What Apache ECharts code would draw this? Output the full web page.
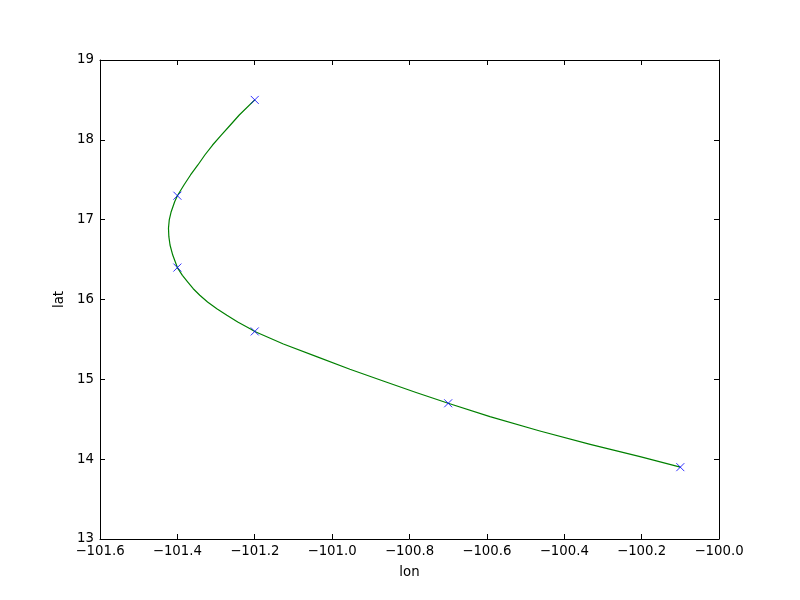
<!DOCTYPE html>
<html>
<head>
<meta charset="utf-8">
<script src="https://cdn.jsdelivr.net/npm/echarts@6/dist/echarts.min.js"></script>
<style>html,body{margin:0;padding:0;background:#fff}#c{width:800px;height:600px}</style>
</head>
<body>
<div id="c"></div>
<script>
// observed track points (markers)
var lon = [-101.2, -101.4, -101.4, -101.2, -100.7, -100.1];
var lat = [18.5, 17.3, 16.4, 15.6, 14.7, 13.9];
// fitted curve, values
var curveLon = [-101.2, -101.240, -101.263, -101.286, -101.309, -101.329, -101.347, -101.366, -101.383, -101.4, -101.407, -101.416, -101.421, -101.423, -101.422, -101.419, -101.412, -101.4, -101.387, -101.373, -101.359, -101.342, -101.322, -101.298, -101.272, -101.244, -101.212, -101.2, -101.126, -101.040, -100.954, -100.868, -100.783, -100.7, -100.592, -100.463, -100.333, -100.204, -100.1];
var curveLat = [18.5, 18.311, 18.186, 18.061, 17.935, 17.810, 17.685, 17.560, 17.434, 17.3, 17.225, 17.100, 16.996, 16.892, 16.787, 16.683, 16.557, 16.4, 16.303, 16.219, 16.135, 16.053, 15.969, 15.885, 15.802, 15.718, 15.634, 15.6, 15.443, 15.284, 15.126, 14.979, 14.835, 14.7, 14.532, 14.353, 14.186, 14.031, 13.9];
var xTicks = [-101.6, -101.4, -101.2, -101.0, -100.8, -100.6, -100.4, -100.2, -100.0];
var yTicks = [13, 14, 15, 16, 17, 18, 19];

var pts = lon.map(function (v, i) { return [v, lat[i]]; });
var curve = curveLon.map(function (v, i) { return [v, curveLat[i]]; });
var font = 'DejaVu Sans';
function fmtX(v) {
  return v.toFixed(1).replace('-', '\u2212');
}
var chart = echarts.init(document.getElementById('c'), null, {renderer: 'canvas'});
var axCommon = {
  axisLine: {show: true, lineStyle: {color: '#000', width: 1}},
  axisTick: {show: true, inside: true, length: 5, lineStyle: {color: '#000', width: 1}},
  splitLine: {show: false}
};
chart.setOption({
  animation: false,
  backgroundColor: '#fff',
  grid: {left: 100, right: 81, top: 60, bottom: 61, show: false},
  xAxis: [
    Object.assign({
      type: 'value', min: xTicks[0], max: xTicks[xTicks.length - 1], interval: 0.2,
      position: 'bottom',
      name: 'lon', nameLocation: 'middle', nameGap: 27,
      nameTextStyle: {fontFamily: font, fontSize: 13.3, color: '#000'},
      axisLabel: {fontFamily: font, fontSize: 13.3, color: '#000', margin: 6, formatter: fmtX,
        showMinLabel: true, showMaxLabel: true}
    }, axCommon),
    Object.assign({
      type: 'value', min: xTicks[0], max: xTicks[xTicks.length - 1], interval: 0.2,
      position: 'top', axisLabel: {show: false}
    }, axCommon)
  ],
  yAxis: [
    Object.assign({
      type: 'value', min: yTicks[0], max: yTicks[yTicks.length - 1], interval: 1,
      position: 'left',
      name: 'lat', nameLocation: 'middle', nameGap: 27, nameRotate: 90,
      nameTextStyle: {fontFamily: font, fontSize: 13.3, color: '#000'},
      axisLabel: {fontFamily: font, fontSize: 13.3, color: '#000', margin: 6,
        showMinLabel: true, showMaxLabel: true}
    }, axCommon),
    Object.assign({
      type: 'value', min: yTicks[0], max: yTicks[yTicks.length - 1], interval: 1,
      position: 'right', axisLabel: {show: false}
    }, axCommon)
  ],
  series: [
    {
      type: 'line', data: curve, smooth: false, showSymbol: false, symbol: 'none',
      lineStyle: {color: '#008000', width: 1.2, join: 'round'}, z: 2, xAxisIndex: 0, yAxisIndex: 0
    },
    {
      type: 'scatter', data: pts, symbol: 'path://M0,0L10,10M10,0L0,10', symbolSize: 8,
      itemStyle: {color: 'rgba(0,0,0,0)', borderColor: '#0000ff', borderWidth: 1},
      z: 3, xAxisIndex: 0, yAxisIndex: 0
    }
  ]
});
</script>
</body>
</html>
